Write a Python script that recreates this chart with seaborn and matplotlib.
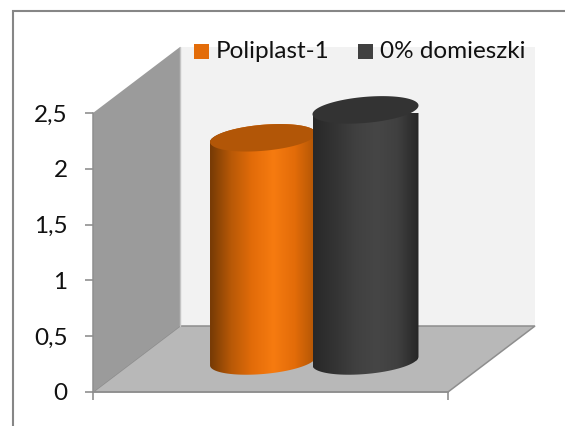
import numpy as np
import pandas as pd
import matplotlib
matplotlib.use("Agg")
import matplotlib.pyplot as plt
import seaborn as sns
from matplotlib.patches import Polygon, Rectangle
from matplotlib.path import Path
from matplotlib.transforms import Affine2D, IdentityTransform
from matplotlib.colors import LinearSegmentedColormap

categories = ["Poliplast-1", "0% domieszki"]
values = [2.0, 2.25]
base_level = 0.278
ytick_values = [0, 0.5, 1, 1.5, 2, 2.5]
ytick_labels = ["0", "0,5", "1", "1,5", "2", "2,5"]
colors = ["#e36c09", "#404040"]
top_colors = ["#b25607", "#333333"]
shades = [["#753a05", "#b85907", "#e36c09", "#f67b10", "#e36c09", "#b05505"],
          ["#282828", "#333333", "#404040", "#464646", "#404040", "#262626"]]

sns.set_theme(style="white")
plt.rcParams["font.family"] = ["Lato", "DejaVu Sans"]

W, H = 565, 426
fig = plt.figure(figsize=(W / 100, H / 100), dpi=100, facecolor="white")
ax = fig.add_axes([93 / W, 1 - 392 / H, (448 - 93) / W, (392 - 113) / H])
ax.patch.set_visible(False)

px = Affine2D().scale(1, -1).translate(0, H)
XLIM = (-1.659, 1.805)

df = pd.DataFrame({"cat": categories, "val": values})
sns.barplot(data=df, x="cat", y="val", hue="cat", hue_order=categories, order=categories,
            palette=colors, width=1.034, bottom=base_level, legend=False, ax=ax, linewidth=0)
ax.set_xlim(*XLIM)
ax.set_ylim(0, 2.5)
ax.set_xlabel("")
ax.set_ylabel("")

wall = "#9b9b9b"; back = "#f2f2f2"; floor = "#b8b8b8"; edge = "#8e8e8e"
ax.add_patch(Polygon([(180, 47), (535, 47), (535, 326), (180, 326)], transform=px, clip_on=False,
                     fc=back, ec="none", zorder=0))
ax.add_patch(Polygon([(93, 392), (180, 326), (535, 326), (448, 392)], transform=px, clip_on=False,
                     fc=floor, ec=edge, lw=1.1, zorder=0.1))
ax.add_patch(Polygon([(93, 113), (180, 47), (180, 326), (93, 392)], transform=px, clip_on=False,
                     fc=wall, ec="none", zorder=0.2))
ax.plot([180, 180], [47, 326], transform=px, color="#c4c4c4", lw=1, clip_on=False, zorder=0.3)

# outer chart frame
ax.plot([13, 13, 565], [426, 11, 11], transform=px, color="#868686", lw=1.5, clip_on=False,
        solid_joinstyle="miter", zorder=0.05)

def tilted(cx, cy, a, b, th, t):
    return np.column_stack([cx + a * np.cos(t) * np.cos(th) - b * np.sin(t) * np.sin(th),
                            cy + a * np.cos(t) * np.sin(th) + b * np.sin(t) * np.cos(th)])

fig.canvas.draw()
theta = np.deg2rad(5)
bars = [p for p in ax.patches if isinstance(p, Rectangle)]
for i, bar in enumerate(bars):
    x0, y0 = bar.get_x(), bar.get_y()
    w, h = bar.get_width(), bar.get_height()
    (dl, db), (dr, dt) = ax.transData.transform([(x0, y0), (x0 + w, y0 + h)])
    cx = (dl + dr) / 2
    a = (dr - dl) / 2 / np.cos(theta)
    b = 13.0
    z = 2 + i
    arc_low = tilted(cx, db, a, b, theta, np.linspace(np.pi, 2 * np.pi, 80))
    arc_up = tilted(cx, dt, a, b, theta, np.linspace(0, np.pi, 80))
    body = Path(np.vstack([arc_low, arc_up, arc_low[:1]]), closed=True)
    bar.set_clip_on(True)
    bar.set_clip_path(body, IdentityTransform())
    bar.set_zorder(z)
    cmap = LinearSegmentedColormap.from_list(f"c{i}", shades[i])
    im = ax.imshow(np.linspace(0, 1, 256)[None, :], cmap=cmap, aspect="auto",
                   extent=(x0, x0 + w, y0 - 0.2, y0 + h + 0.2), zorder=z + 0.1)
    im.set_clip_path(body, IdentityTransform())
    top = tilted(cx, dt, a, b, theta, np.linspace(0, 2 * np.pi, 160))
    ax.add_patch(Polygon(top, closed=True, transform=IdentityTransform(), fc=top_colors[i],
                         ec="none", clip_on=False, zorder=z + 0.2))

ax.set_xlim(*XLIM)
ax.set_ylim(0, 2.5)

ax.set_yticks(ytick_values, ytick_labels)
ax.set_xticks(list(XLIM), ["", ""])
ax.tick_params(axis="both", which="major", direction="out", length=5.8, width=1.1,
               color="#868686", left=True, bottom=True)
ax.tick_params(axis="y", pad=12.5, labelsize=17.5, labelcolor="#111111")
for s in ["top", "right"]:
    ax.spines[s].set_visible(False)
for s in ["left", "bottom"]:
    ax.spines[s].set_color("#8e8e8e")
    ax.spines[s].set_linewidth(1.1)

# legend
for (x, label, color) in zip([194, 358], categories, colors):
    ax.add_patch(Rectangle((x, 44), 15, 15, transform=px, fc=color, ec="none", clip_on=False, zorder=6))
    ax.text(x + 22, 52, label, transform=px, fontsize=17.5, color="#111111", va="center", ha="left",
            clip_on=False, zorder=6)

fig.savefig("out.png", dpi=100)
